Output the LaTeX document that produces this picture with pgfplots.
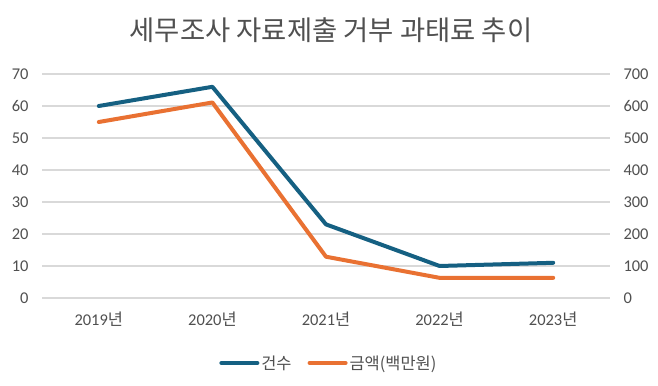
\documentclass[border=0pt]{standalone}
\usepackage{pgfplots}
\pgfplotsset{compat=1.18}
\usepackage{fontspec}
\setmainfont{Carlito}
\newfontfamily\kr{Noto Sans CJK KR}
\definecolor{cA}{HTML}{156082}
\definecolor{cB}{HTML}{E97132}
\definecolor{txt}{HTML}{505050}
\definecolor{gridc}{HTML}{D9D9D9}
\begin{document}
\begin{tikzpicture}
\useasboundingbox (0,0) rectangle (658bp,386bp);
\fill[white] (0,0) rectangle (658bp,386bp);
\node[text=txt, font=\kr\fontsize{27.5}{31}\selectfont] at (331bp,356bp) {세무조사 자료제출 거부 과태료 추이};
\begin{axis}[
  at={(42bp,88bp)}, anchor=south west, scale only axis,
  width=568bp, height=224bp,
  xmin=-0.5, xmax=4.5, ymin=0, ymax=70,
  ytick={0,10,...,70}, xtick={0,1,2,3,4},
  xticklabels={2019{\kr 년},2020{\kr 년},2021{\kr 년},2022{\kr 년},2023{\kr 년}},
  axis line style={draw=none}, major tick length=0pt,
  ymajorgrids, grid style={gridc, line width=1.3bp},
  tick label style={font=\fontsize{16.5}{19}\selectfont, text=txt},
  /pgf/number format/assume math mode=true,
  yticklabel style={xshift=-10bp},
  xticklabel style={yshift=-10bp},
  clip=false,
]
\addplot[cA, line width=4bp, line cap=round, line join=round] coordinates {(0,60) (1,66) (2,23) (3,10) (4,11)};
\end{axis}
\begin{axis}[
  at={(42bp,88bp)}, anchor=south west, scale only axis,
  width=568bp, height=224bp,
  xmin=-0.5, xmax=4.5, ymin=0, ymax=700,
  ytick={0,100,...,700}, xtick=\empty,
  axis y line*=right, axis x line=none,
  axis line style={draw=none}, major tick length=0pt,
  tick label style={font=\fontsize{16.5}{19}\selectfont, text=txt},
  /pgf/number format/assume math mode=true,
  yticklabel style={xshift=10bp},
  clip=false,
  legend columns=2,
  legend style={at={(0.505,-0.29)}, anchor=center, draw=none, fill=none,
    font=\kr\fontsize{16.5}{19}\selectfont, text=txt,
    /tikz/every even column/.append style={column sep=14bp}},
  legend image code/.code={\draw[#1, line width=4bp, line cap=round] (0bp,0bp) -- (36bp,0bp);},
]
\addlegendimage{cA, line width=4bp}
\addlegendentry{건수}
\addplot[cB, line width=4bp, line cap=round, line join=round] coordinates {(0,550) (1,611) (2,129) (3,63) (4,63)};
\addlegendentry{금액(백만원)}
\end{axis}
\end{tikzpicture}
\end{document}
